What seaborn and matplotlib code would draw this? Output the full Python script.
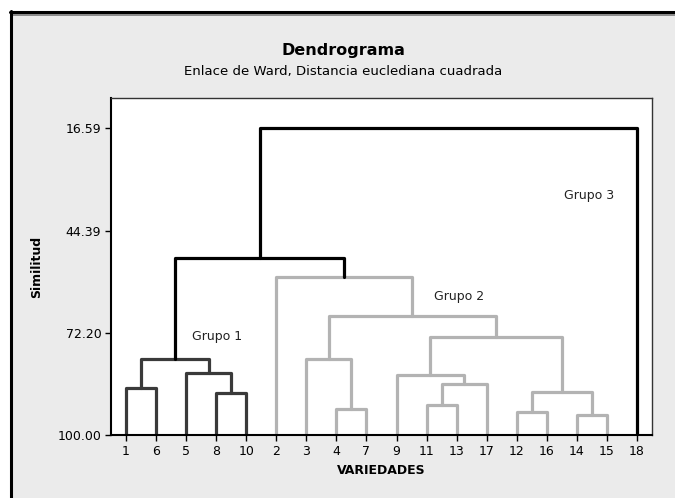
import numpy as np
import pandas as pd
import matplotlib
matplotlib.use("Agg")
import matplotlib.pyplot as plt
import seaborn as sns
from matplotlib.patches import Rectangle
from matplotlib.lines import Line2D

# Leaf order as shown on the x axis
leaf_labels = ['1', '6', '5', '8', '10', '2', '3', '4', '7', '9',
               '11', '13', '17', '12', '16', '14', '15', '18']

# Merges: children are leaf positions (0-17) or earlier clusters (18+)
merge_left = [0, 3, 2, 18, 7, 6, 10, 24, 9, 13, 15, 27, 26, 23, 5, 21, 33]
merge_right = [1, 4, 19, 20, 8, 22, 11, 12, 25, 14, 16, 28, 29, 30, 31, 32, 17]
merge_sim = [87.1, 88.5, 83.0, 79.2, 92.9, 79.2, 91.7, 86.1, 83.6,
             93.75, 94.5, 88.2, 73.4, 67.6, 57.0, 51.8, 16.59]
merge_group = ['g1', 'g1', 'g1', 'g1', 'g2', 'g2', 'g2', 'g2', 'g2',
               'g2', 'g2', 'g2', 'g2', 'g2', 'g2', 'top', 'top']

y_ticks = [16.59, 44.39, 72.20, 100.00]

group_labels = ['Grupo 1', 'Grupo 2', 'Grupo 3']
group_label_x = [3.03, 11.09, 15.41]
group_label_y = [73.2, 62.3, 34.7]

palette = {'g1': '#3a3a3a', 'g2': '#b3b3b3', 'top': '#000000'}

# Build segments for each link
n = len(leaf_labels)
node_x = {i: float(i) for i in range(n)}
node_y = {i: 100.0 for i in range(n)}
rows = []
for k, (a, b, h, g) in enumerate(zip(merge_left, merge_right, merge_sim, merge_group)):
    xa, ya, xb, yb = node_x[a], node_y[a], node_x[b], node_y[b]
    for j, (px, py) in enumerate([(xa, ya), (xa, h), (xb, h), (xb, yb)]):
        rows.append({'seg': k, 'order': j, 'x': px, 'y': py, 'grupo': g})
    node_x[n + k] = (xa + xb) / 2
    node_y[n + k] = h
segs = pd.DataFrame(rows)

sns.set_style("white")
plt.rcParams['font.family'] = ['DejaVu Sans']
plt.rcParams['text.color'] = 'black'
plt.rcParams['axes.labelcolor'] = 'black'
plt.rcParams['xtick.color'] = 'black'
plt.rcParams['ytick.color'] = 'black'

fig = plt.figure(figsize=(6.75, 4.98), dpi=100)
fig.patch.set_facecolor('white')

# grey panel with frame lines
fig.patches.append(Rectangle((11 / 675, 0), 1, 486 / 498, transform=fig.transFigure,
                             facecolor='#ebebeb', edgecolor='none', zorder=-10))
fig.lines.append(Line2D([10 / 675, 1], [1 - 12 / 498, 1 - 12 / 498], transform=fig.transFigure,
                        color='black', lw=2.2))
fig.lines.append(Line2D([12 / 675, 1], [1 - 15 / 498, 1 - 15 / 498], transform=fig.transFigure,
                        color='#7a7a7a', lw=1.2))
fig.lines.append(Line2D([11 / 675, 11 / 675], [0, 1 - 11 / 498], transform=fig.transFigure,
                        color='black', lw=2.2))

ax = fig.add_axes([111 / 675, 1 - 435.3 / 498, (652 - 111) / 675, (435.3 - 98) / 498])
ax.set_facecolor('white')

for g in ['g2', 'g1', 'top']:
    sub = segs[segs['grupo'] == g]
    sns.lineplot(data=sub, x='x', y='y', units='seg', estimator=None, sort=False,
                 color=palette[g], lw=2.3, ax=ax, legend=False)

ax.set_xlim(-0.5, 17.5)
ax.set_ylim(100, 8.3)
ax.set_xticks(range(n))
ax.set_xticklabels(leaf_labels, fontsize=9)
ax.set_yticks(y_ticks)
ax.set_yticklabels([f'{v:.2f}' for v in y_ticks], fontsize=9)
ax.tick_params(axis='both', direction='out', length=4, width=1, color='black', pad=3,
               bottom=True, left=True, labelcolor='black')
for side in ['left', 'bottom']:
    ax.spines[side].set_color('black')
    ax.spines[side].set_linewidth(1.5)
for side in ['top', 'right']:
    ax.spines[side].set_color('#333333')
    ax.spines[side].set_linewidth(1.0)

ax.set_xlabel('VARIEDADES', fontsize=9, fontweight='bold', labelpad=4, color='black')
ax.set_ylabel('Similitud', fontsize=9, fontweight='bold', labelpad=10, color='black')

for lab, gx, gy in zip(group_labels, group_label_x, group_label_y):
    ax.text(gx, gy, lab, fontsize=9, ha='center', va='center', color='#222222')

fig.text(343 / 675, 1 - 50 / 498, 'Dendrograma', fontsize=11.5, fontweight='bold',
         ha='center', va='center', color='black')
fig.text(343 / 675, 1 - 71 / 498, 'Enlace de Ward, Distancia euclediana cuadrada',
         fontsize=9.5, ha='center', va='center', color='black')

fig.savefig('out.png', dpi=100)
